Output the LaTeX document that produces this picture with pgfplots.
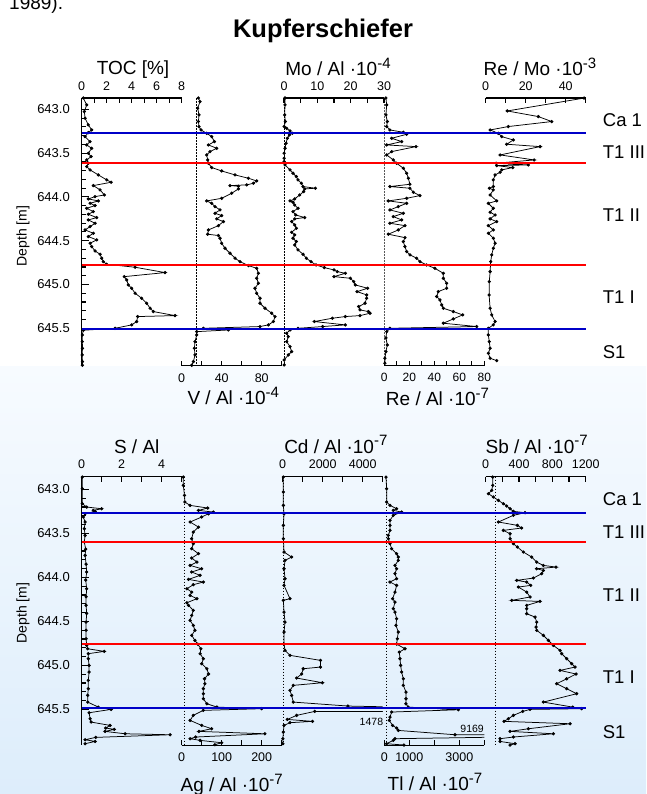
\documentclass[border=0pt]{standalone}
\usepackage{fontspec}
\setmainfont{Liberation Sans}
\usepackage{pgfplots}
\pgfplotsset{compat=1.18}
\definecolor{bgtop}{RGB}{247,251,255}
\definecolor{bgbot}{RGB}{221,237,251}
\definecolor{hblue}{RGB}{0,0,200}
\definecolor{hred}{RGB}{255,0,0}
\newcommand\fs[1]{\fontsize{#1}{#1}\selectfont}
\newcommand\ttl[2]{#1 ·10\raisebox{7.5pt}{\fs{15}#2}}

\pgfplotsset{
  logcol/.style={scale only axis, width=100pt, y dir=reverse, clip=true,
    axis y line=none, ytick=\empty, tick align=inside, scaled ticks=false,
    axis line style={line width=1.3pt},
    tick style={black, line width=1.1pt}, major tick length=5pt,
    xticklabel style={font=\fs{12.5}, inner sep=0pt}},
  toppanel/.style={height=267.8pt, ymin=642.871, ymax=645.928},
  botpanel/.style={height=268.6pt, ymin=642.856, ymax=645.908},
  topax/.style={axis x line*=top, xticklabel style={anchor=south, yshift=7.5pt}},
  botax/.style={axis x line*=bottom, xticklabel style={anchor=north, yshift=-7.5pt}},
  depthax/.style={scale only axis, width=100pt, y dir=reverse, xmin=0, xmax=1,
    axis x line=none, axis y line*=left, tick align=inside,
    axis line style={line width=1.3pt}, tick style={black, line width=1.1pt},
    major tick length=7pt, minor tick length=4pt, minor y tick num=4,
    ytick={643,643.5,644,644.5,645,645.5},
    yticklabels={643.0,643.5,644.0,644.5,645.0,645.5},
    yticklabel style={font=\fs{13}, inner sep=0pt, xshift=-11.7pt}},
  hzax/.style={scale only axis, width=504.3pt, y dir=reverse, xmin=0, xmax=1,
    hide axis, clip=false},
  prof/.style={black, line width=0.75pt, mark=*, mark size=1.25pt},
  shale/.style={black, line width=0.9pt, dash pattern=on 1.6pt off 1.4pt},
}

\begin{document}
\begin{tikzpicture}[x=1pt,y=1pt]
\useasboundingbox (0,0) rectangle (646,794);
\fill[white] (0,0) rectangle (646,794);
\shade[top color=bgtop, bottom color=bgbot] (0,0) rectangle (646,427);

\node[anchor=base west, inner sep=0pt] at (9,784) {\fs{19}1989).};
\node[anchor=base, inner sep=0pt] at (323,756.5) {\fs{25.5}\bfseries Kupferschiefer};

% ---------------- upper panel ----------------
\begin{axis}[depthax, toppanel, at={(81.7pt,428.2pt)}, anchor=south west]
\addplot[draw=none] coordinates {(0.5,644)};
\end{axis}

\begin{axis}[logcol, toppanel, topax, at={(81.7pt,428.2pt)}, anchor=south west,
  xmin=0, xmax=8, xtick={0,...,8}, xticklabels={0,,2,,4,,6,,8}]
\addplot[prof] coordinates {
(0.13,642.871)(0.40,642.950)(0.21,643.026)(0.27,643.102)(0.53,643.178)(0.80,643.236)
(0.53,643.266)(0.27,643.312)(0.67,643.369)(0.40,643.407)(0.80,643.445)(0.53,643.502)
(0.75,643.540)(0.40,643.578)(0.53,643.616)(0.40,643.654)(0.67,643.692)(1.33,643.749)
(2.00,643.806)(2.35,643.833)(0.93,643.871)(1.47,643.920)(1.81,643.978)(1.07,643.997)
(0.53,644.023)(1.33,644.046)(0.67,644.073)(1.07,644.099)(0.40,644.130)(0.93,644.168)
(0.53,644.198)(1.20,644.236)(0.53,644.263)(1.07,644.301)(0.67,644.339)(0.27,644.377)
(0.93,644.415)(0.53,644.453)(1.20,644.491)(0.67,644.529)(0.80,644.567)(1.07,644.617)
(1.47,644.655)(1.60,644.700)(1.73,644.739)(2.00,644.769)(4.27,644.803)(6.67,644.864)
(3.41,644.910)(3.60,644.948)(3.73,645.005)(4.00,645.043)(4.27,645.100)(4.80,645.157)
(5.20,645.214)(5.47,645.271)(5.73,645.309)(7.47,645.355)(4.48,645.366)(4.40,645.423)
(4.00,645.461)(2.67,645.500)(0.13,645.522)(0.05,645.576)(0.05,645.652)(0.06,645.728)
(0.04,645.804)(0.06,645.880)(0.05,645.922)};
\end{axis}

\begin{axis}[logcol, toppanel, botax, at={(181.7pt,428.2pt)}, anchor=south west,
  xmin=0, xmax=100, xtick={0,20,...,100}, xticklabels={0,,40,,80,}]
\addplot[shale] coordinates {(15,642.871)(15,645.928)};
\addplot[prof] coordinates {
(16.7,642.871)(18.3,642.912)(16.0,642.988)(17.3,643.064)(16.7,643.140)(17.3,643.197)
(19.3,643.236)(25.0,643.274)(30.0,643.312)(32.7,643.369)(26.7,643.407)(35.0,643.445)
(28.3,643.483)(25.0,643.521)(26.0,643.578)(26.7,643.616)(30.0,643.665)(40.0,643.704)
(53.3,643.749)(66.7,643.787)(75.0,643.818)(71.7,643.844)(65.0,643.863)(48.3,643.871)
(56.7,643.878)(56.7,643.909)(50.0,643.958)(40.0,644.016)(25.0,644.046)(30.0,644.073)
(33.3,644.111)(38.3,644.149)(33.3,644.187)(40.0,644.213)(35.0,644.251)(41.7,644.282)
(36.7,644.328)(26.7,644.377)(26.0,644.426)(36.7,644.441)(38.3,644.472)(40.0,644.529)
(43.3,644.586)(48.3,644.643)(53.3,644.700)(58.3,644.739)(66.7,644.784)(75.0,644.815)
(76.7,644.872)(75.0,644.929)(76.7,644.986)(73.3,645.043)(75.0,645.100)(78.3,645.157)
(78.3,645.214)(83.3,645.271)(90.0,645.328)(93.3,645.366)(91.7,645.423)(86.7,645.461)
(78.3,645.480)(21.7,645.500)(46.7,645.519)(15.0,645.538)(15.0,645.576)(13.3,645.652)
(12.7,645.728)(13.3,645.804)(11.7,645.880)(10.0,645.922)};
\end{axis}

\begin{axis}[logcol, toppanel, topax, at={(284pt,428.2pt)}, anchor=south west,
  xmin=0, xmax=30, xtick={0,5,...,30}, xticklabels={0,,10,,20,,30}]
\addplot[shale] coordinates {(0.2,642.871)(0.2,645.928)};
\addplot[prof] coordinates {
(0.3,642.871)(0.3,642.950)(0.2,643.064)(0.4,643.140)(0.05,643.197)(0.8,643.217)
(1.8,643.247)(2.5,643.274)(1.6,643.293)(1.0,643.331)(0.6,643.388)(0.3,643.445)
(0.05,643.502)(0.05,643.559)(0.05,643.597)(0.3,643.635)(1.8,643.692)(2.7,643.730)
(3.7,643.768)(4.2,643.806)(5.2,643.844)(5.7,643.882)(9.4,643.901)(6.2,643.909)
(5.9,643.939)(4.7,643.978)(3.2,644.023)(1.8,644.046)(2.7,644.061)(3.2,644.092)
(4.2,644.130)(2.7,644.168)(3.5,644.206)(6.2,644.236)(3.2,644.251)(2.3,644.282)
(3.2,644.320)(3.7,644.358)(2.3,644.404)(3.2,644.434)(2.7,644.472)(3.7,644.510)
(3.2,644.548)(4.2,644.605)(5.7,644.655)(6.7,644.700)(8.1,644.739)(9.6,644.777)
(12.1,644.807)(15.0,644.834)(16.0,644.853)(18.4,644.872)(15.0,644.910)(19.9,644.929)
(20.9,644.967)(21.4,645.005)(25.1,645.043)(21.9,645.081)(24.8,645.119)(24.8,645.157)
(24.3,645.214)(22.4,645.252)(22.8,645.290)(25.3,645.309)(25.8,645.328)(22.8,645.355)
(18.4,645.366)(14.5,645.385)(9.1,645.423)(18.4,645.461)(11.6,645.480)(4.2,645.500)
(1.8,645.519)(0.8,645.557)(1.3,645.595)(0.8,645.652)(1.8,645.709)(2.3,645.766)
(1.3,645.804)(0.05,645.861)(0.05,645.918)};
\end{axis}

\begin{axis}[logcol, toppanel, botax, at={(384.3pt,428.2pt)}, anchor=south west,
  xmin=0, xmax=80, xtick={0,10,...,80}, xticklabels={0,,20,,40,,60,,80},
  xticklabel style={font=\fs{12}}]
\addplot[shale] coordinates {(0.5,642.871)(0.5,645.928)};
\addplot[prof] coordinates {
(1.3,642.871)(1.9,642.950)(1.3,643.064)(2.4,643.140)(1.9,643.197)(4.5,643.236)
(15.2,643.262)(17.9,643.285)(5.9,643.331)(13.9,643.369)(1.9,643.407)(25.3,643.426)
(5.9,643.483)(1.9,643.521)(7.2,643.578)(9.9,643.616)(15.2,643.673)(17.9,643.730)
(19.2,643.787)(20.5,643.856)(4.5,643.882)(20.5,643.901)(23.2,643.947)(28.5,643.985)
(17.9,644.016)(3.2,644.046)(17.9,644.073)(11.2,644.111)(4.5,644.149)(15.2,644.187)
(7.2,644.225)(13.9,644.263)(4.5,644.301)(16.5,644.328)(11.2,644.377)(3.2,644.426)
(16.5,644.465)(15.2,644.510)(16.5,644.567)(17.9,644.624)(20.5,644.662)(25.9,644.700)
(28.5,644.739)(33.9,644.777)(40.5,644.815)(47.2,644.872)(47.2,644.929)(49.9,644.986)
(49.9,645.043)(43.2,645.081)(41.9,645.138)(44.5,645.176)(45.9,645.233)(47.2,645.271)
(55.2,645.309)(62.7,645.347)(55.2,645.393)(47.2,645.442)(73.9,645.480)(4.5,645.500)
(1.9,645.538)(1.3,645.610)(2.4,645.690)(1.3,645.766)(0.5,645.842)(0.5,645.899)};
\end{axis}

\begin{axis}[logcol, toppanel, topax, at={(485.7pt,428.2pt)}, anchor=south west,
  xmin=0, xmax=50, xtick={0,10,...,50}, xticklabels={0,,20,,40,}]
\addplot[prof] coordinates {
(49.2,642.872)(10.8,643.019)(26.3,643.083)(33.0,643.140)(11.3,643.197)(2.2,643.236)
(6.3,643.274)(8.0,643.312)(13.8,643.350)(10.5,643.399)(27.2,643.426)(7.2,643.521)
(24.2,643.578)(5.2,643.616)(21.3,643.635)(5.5,643.643)(13.5,643.665)(8.0,643.692)
(7.2,643.719)(4.7,643.749)(3.8,643.806)(3.8,643.882)(1.8,643.901)(3.8,643.920)
(2.2,643.978)(5.5,644.046)(1.3,644.073)(3.8,644.130)(2.2,644.175)(4.7,644.206)
(2.2,644.251)(5.5,644.282)(1.3,644.328)(3.8,644.377)(1.3,644.415)(3.8,644.472)
(4.7,644.529)(3.8,644.586)(3.0,644.662)(2.5,644.739)(2.2,644.853)(1.8,644.967)
(1.7,645.119)(2.2,645.271)(3.0,645.347)(4.7,645.423)(3.8,645.461)(1.3,645.500)
(1.3,645.576)(1.8,645.652)(2.2,645.728)(1.3,645.785)(2.2,645.842)(5.5,645.869)};
\end{axis}

\begin{axis}[hzax, toppanel, at={(81.7pt,428.2pt)}, anchor=south west]
\addplot[hblue, line width=2pt] coordinates {(0,643.266)(1,643.266)};
\addplot[hred, line width=2pt] coordinates {(0,643.608)(1,643.608)};
\addplot[hred, line width=2pt] coordinates {(0,644.777)(1,644.777)};
\addplot[hblue, line width=2pt] coordinates {(0,645.507)(1,645.507)};
\end{axis}

% ---------------- lower panel ----------------
\begin{axis}[depthax, botpanel, at={(81.7pt,48.7pt)}, anchor=south west]
\addplot[draw=none] coordinates {(0.5,644)};
\end{axis}

\begin{axis}[logcol, botpanel, topax, at={(81.7pt,48.7pt)}, anchor=south west,
  xmin=0, xmax=5, xtick={0,...,5}, xticklabels={0,,2,,4,}]
\addplot[prof] coordinates {
(0.03,642.860)(0.03,642.992)(0.03,643.163)(0.25,643.201)(1.00,643.220)(0.58,643.239)
(0.67,643.250)(0.17,643.277)(0.08,643.314)(0.17,643.371)(0.13,643.447)(0.17,643.523)
(0.13,643.598)(0.20,643.680)(0.17,643.750)(0.22,643.850)(0.25,643.939)(0.20,644.030)
(0.25,644.129)(0.22,644.220)(0.22,644.318)(0.25,644.410)(0.22,644.508)(0.22,644.600)
(0.22,644.697)(0.25,644.773)(0.30,644.811)(1.13,644.841)(0.33,644.867)(0.33,644.924)
(0.37,645.000)(0.37,645.076)(0.33,645.170)(0.33,645.265)(0.30,645.340)(0.30,645.417)
(0.83,645.474)(1.47,645.500)(0.37,645.538)(0.42,645.606)(0.47,645.644)(1.42,645.682)
(1.20,645.712)(1.63,645.727)(1.17,645.750)(2.17,645.777)(4.42,645.788)(0.70,645.818)
(0.17,645.845)(0.67,645.864)(0.17,645.890)};
\end{axis}

\begin{axis}[logcol, botpanel, botax, at={(181.7pt,48.7pt)}, anchor=south west,
  xmin=0, xmax=250, xtick={0,50,...,250}, xticklabels={0,,100,,200,}]
\addplot[shale] coordinates {(6,642.856)(6,645.908)};
\addplot[prof] coordinates {
(4,642.860)(4,642.955)(7,643.068)(8,643.144)(21,643.182)(65,643.212)(42,643.239)
(79,643.258)(67,643.277)(50,643.314)(21,643.371)(42,643.428)(29,643.485)(25,643.561)
(29,643.617)(25,643.674)(42,643.731)(25,643.780)(38,643.826)(21,643.864)(50,643.902)
(25,643.939)(46,643.977)(17,644.023)(54,644.053)(29,644.083)(13,644.129)(25,644.167)
(21,644.205)(38,644.242)(13,644.288)(17,644.318)(29,644.375)(25,644.432)(21,644.489)
(29,644.546)(33,644.602)(25,644.659)(33,644.716)(40,644.758)(48,644.811)(46,644.867)
(54,644.924)(50,644.981)(63,645.038)(67,645.098)(57,645.152)(58,645.208)(54,645.265)
(54,645.322)(54,645.379)(63,645.436)(88,645.474)(200,645.492)(54,645.511)(29,645.568)
(21,645.625)(50,645.682)(75,645.720)(43,645.750)(208,645.777)(35,645.814)(21,645.833)
(46,645.852)(100,645.879)(83,645.901)};
\end{axis}

\begin{axis}[logcol, botpanel, topax, at={(282.7pt,48.7pt)}, anchor=south west,
  xmin=0, xmax=5000, xtick={0,1000,...,5000}, xticklabels={0,,2000,,4000,}]
\addplot[shale] coordinates {(30,642.856)(30,645.908)};
\addplot[prof] coordinates {
(33,642.860)(33,643.030)(33,643.182)(66,643.277)(33,643.409)(33,643.561)(66,643.712)
(447,643.769)(116,643.807)(66,643.902)(116,644.015)(66,644.091)(364,644.242)
(33,644.261)(66,644.394)(116,644.508)(66,644.621)(66,644.758)(116,644.830)
(364,644.886)(1888,644.943)(1888,645.019)(1027,645.038)(944,645.098)(696,645.144)
(1987,645.197)(530,645.227)(364,645.284)(447,645.341)(530,645.417)(3262,645.462)
(6500,645.477)(6500,645.523)(1600,645.523)(696,645.568)(232,645.614)(1490,645.636)
(364,645.651)(66,645.682)(33,645.758)(10,645.833)(5,645.890)};
\addplot[black, line width=1.6pt] coordinates {(1600,645.523)(5000,645.523)};
\end{axis}

\begin{axis}[logcol, botpanel, botax, at={(384.3pt,48.7pt)}, anchor=south west,
  xmin=0, xmax=4000, xtick={0,1000,...,4000}, xticklabels={0,1000,,3000,}]
\addplot[shale] coordinates {(93,642.856)(93,645.908)};
\addplot[prof] coordinates {
(67,642.860)(93,642.992)(93,643.144)(227,643.182)(493,643.220)(360,643.239)
(693,643.258)(360,643.295)(227,643.352)(227,643.409)(227,643.466)(160,643.523)
(160,643.561)(227,643.617)(293,643.674)(493,643.731)(560,643.769)(560,643.807)
(427,643.864)(493,643.902)(427,643.958)(493,644.015)(227,644.053)(493,644.091)
(427,644.167)(333,644.242)(427,644.280)(360,644.356)(427,644.394)(493,644.470)
(467,644.546)(560,644.621)(520,644.697)(493,644.758)(827,644.811)(600,644.849)
(627,644.924)(653,645.000)(693,645.076)(760,645.152)(760,645.227)(867,645.303)
(867,645.379)(867,645.436)(960,645.474)(2960,645.504)(293,645.530)(227,645.587)
(200,645.625)(333,645.682)(493,645.712)(560,645.739)(2827,645.788)(9169,645.795)
(427,645.833)(360,645.852)(93,645.890)(787,645.905)};
\end{axis}

\begin{axis}[logcol, botpanel, topax, at={(485.7pt,48.7pt)}, anchor=south west,
  xmin=0, xmax=1200, xtick={0,200,...,1200}, xticklabels={0,,400,,800,,1200}]
\addplot[shale] coordinates {(112,642.856)(112,645.908)};
\addplot[prof] coordinates {
(84,642.860)(84,642.955)(72,643.011)(32,643.049)(92,643.087)(152,643.125)(212,643.163)
(252,643.189)(292,643.220)(332,643.250)(472,643.265)(332,643.295)(152,643.371)
(380,643.409)(432,643.439)(212,643.466)(292,643.504)(292,643.561)(332,643.617)
(380,643.655)(452,643.712)(552,643.769)(612,643.826)(692,643.864)(844,643.883)
(612,643.902)(692,643.921)(672,643.958)(572,644.008)(372,644.034)(492,644.053)
(540,644.091)(392,644.110)(492,644.167)(532,644.223)(312,644.261)(652,644.273)
(492,644.318)(492,644.356)(492,644.413)(592,644.451)(612,644.508)(604,644.564)
(612,644.602)(692,644.659)(752,644.716)(812,644.773)(892,644.830)(912,644.867)
(972,644.924)(1032,644.981)(1072,645.019)(892,645.057)(1084,645.098)(972,645.152)
(852,645.208)(972,645.265)(1092,645.322)(692,645.417)(1044,645.474)(1152,645.492)
(532,645.500)(444,645.523)(332,645.568)(272,645.606)(220,645.636)(1012,645.663)
(512,645.720)(292,645.750)(812,645.777)(332,645.814)(172,645.833)(172,645.864)
(352,645.890)(292,645.905)};
\end{axis}

\begin{axis}[hzax, botpanel, at={(81.7pt,48.7pt)}, anchor=south west]
\addplot[hblue, line width=2pt] coordinates {(0,643.269)(1,643.269)};
\addplot[hred, line width=2pt] coordinates {(0,643.598)(1,643.598)};
\addplot[hred, line width=2pt] coordinates {(0,644.758)(1,644.758)};
\addplot[hblue, line width=2pt] coordinates {(0,645.485)(1,645.485)};
\end{axis}

% ---------------- texts ----------------
\begin{scope}[every node/.style={inner sep=0pt}]
\node[anchor=base] at (133,719) {\fs{19}TOC [\%]};
\node[anchor=base] at (338,718) {\fs{19}\ttl{Mo / Al}{-4}};
\node[anchor=base] at (540,718) {\fs{19}\ttl{Re / Mo}{-3}};
\node[anchor=base] at (233.3,389) {\fs{19}\ttl{V / Al}{-4}};
\node[anchor=base] at (437.5,388) {\fs{19}\ttl{Re / Al}{-7}};
\node[anchor=base] at (136.7,340) {\fs{19}S / Al};
\node[anchor=base] at (335.8,340.7) {\fs{19}\ttl{Cd / Al}{-7}};
\node[anchor=base] at (536.7,340.7) {\fs{19}\ttl{Sb / Al}{-7}};
\node[anchor=base] at (231.7,2.3) {\fs{19}\ttl{Ag / Al}{-7}};
\node[anchor=base] at (435,3.3) {\fs{19}\ttl{Tl / Al}{-7}};
\node[rotate=90] at (23,558) {\fs{14}Depth [m]};
\node[rotate=90] at (23,181) {\fs{14}Depth [m]};
\node[anchor=base east] at (383.3,68.7) {\fs{10.5}1478};
\node[anchor=base east] at (484,61.3) {\fs{10.5}9169};
\foreach \t/\y in {Ca 1/667.3, T1 III/635.7, T1 II/572.3, T1 I/490.7, S1/435.7,
                   Ca 1/288, T1 III/255, T1 II/192.3, T1 I/110.7, S1/55.7}
  \node[anchor=base west] at (602.7,\y) {\fs{18.5}\t};
\end{scope}
\end{tikzpicture}
\end{document}
